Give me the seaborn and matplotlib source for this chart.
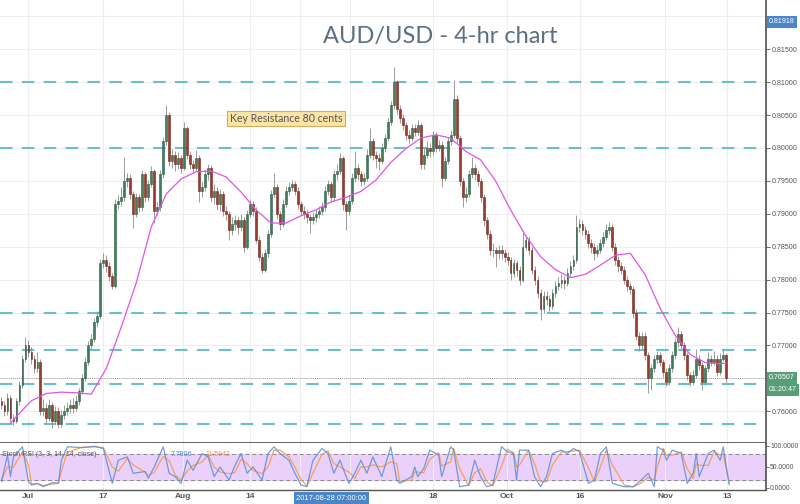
import numpy as np
import pandas as pd
import matplotlib
matplotlib.use("Agg")
import matplotlib.pyplot as plt
import seaborn as sns

# AUD/USD, price in pips (x 1e4), one bar per ~10 hours
first_open = 7615
close_pips = [
    7610, 7600, 7620, 7590, 7585, 7615, 7640, 7680, 7700, 7690,
    7680, 7665, 7675, 7600, 7605, 7590, 7610, 7585, 7600, 7580,
    7595, 7600, 7605, 7610, 7605, 7615, 7630, 7650, 7675, 7700,
    7710, 7735, 7745, 7825, 7830, 7820, 7805, 7790, 7915, 7920,
    7925, 7950, 7955, 7930, 7900, 7925, 7910, 7960, 7925, 7945,
    7965, 7905, 7910, 7960, 8010, 8050, 7980, 7990, 7975, 7985,
    7970, 8030, 7990, 7975, 7970, 7985, 7935, 7940, 7960, 7970,
    7925, 7935, 7915, 7930, 7905, 7900, 7875, 7885, 7890, 7880,
    7890, 7850, 7900, 7915, 7905, 7860, 7835, 7815, 7840, 7870,
    7930, 7940, 7900, 7885, 7915, 7935, 7940, 7945, 7935, 7915,
    7905, 7900, 7895, 7890, 7895, 7900, 7905, 7910, 7935, 7945,
    7925, 7960, 7965, 7985, 7915, 7905, 7920, 7955, 7970, 7960,
    7950, 7955, 7990, 8010, 7990, 7985, 7980, 8000, 8015, 8040,
    8065, 8100, 8060, 8045, 8035, 8020, 8015, 8030, 8025, 8035,
    7975, 7990, 8000, 7995, 8020, 8000, 8005, 7955, 7980, 8010,
    8020, 8075, 8015, 7950, 7925, 7930, 7960, 7970, 7960, 7950,
    7925, 7890, 7870, 7845, 7845, 7840, 7845, 7840, 7835, 7830,
    7810, 7825, 7815, 7800, 7850, 7860, 7845, 7815, 7800, 7780,
    7755, 7775, 7770, 7760, 7780, 7790, 7795, 7800, 7795, 7810,
    7820, 7830, 7880, 7885, 7875, 7870, 7855, 7850, 7840, 7845,
    7855, 7865, 7875, 7880, 7850, 7830, 7820, 7815, 7800, 7790,
    7785, 7750, 7715, 7700, 7715, 7685, 7650, 7665, 7680, 7685,
    7675, 7660, 7645, 7665, 7685, 7705, 7718, 7700, 7685, 7655,
    7645, 7655, 7680, 7670, 7645, 7665, 7680, 7675, 7680, 7660,
    7680, 7685, 7651,
]
high_pips = [
    7622, 7616, 7628, 7625, 7596, 7620, 7646, 7686, 7713, 7708,
    7697, 7686, 7690, 7680, 7618, 7612, 7618, 7614, 7608, 7606,
    7602, 7610, 7614, 7618, 7620, 7624, 7636, 7656, 7682, 7706,
    7718, 7742, 7752, 7832, 7840, 7838, 7826, 7810, 7922, 7928,
    7940, 7986, 7962, 7960, 7935, 7932, 7930, 7966, 7964, 7952,
    7972, 7968, 7918, 7966, 8016, 8065, 8054, 7998, 7996, 7994,
    7990, 8040, 8034, 7996, 7982, 7997, 7990, 7948, 7968, 7976,
    7974, 7945, 7940, 7938, 7935, 7912, 7904, 7895, 7898, 7896,
    7900, 7895, 7906, 7922, 7920, 7910, 7866, 7840, 7846, 7876,
    7936, 7962, 7945, 7905, 7922, 7942, 7948, 7952, 7950, 7940,
    7920, 7912, 7906, 7900, 7902, 7908, 7912, 7918, 7942, 7952,
    7950, 7966, 7975, 7992, 7988, 7920, 7928, 7962, 7995, 7976,
    7965, 7962, 7998, 8030, 8015, 7996, 7992, 8008, 8022, 8046,
    8072, 8123, 8104, 8066, 8052, 8040, 8028, 8036, 8036, 8042,
    8038, 8000, 8010, 8008, 8026, 8025, 8012, 8010, 7986, 8016,
    8028, 8103, 8080, 8020, 7955, 7940, 7966, 7986, 7976, 7966,
    7955, 7930, 7895, 7875, 7855, 7850, 7852, 7852, 7846, 7842,
    7835, 7832, 7830, 7820, 7875, 7868, 7866, 7850, 7820, 7805,
    7785, 7782, 7782, 7776, 7786, 7798, 7804, 7808, 7806, 7818,
    7828, 7838, 7898, 7892, 7890, 7882, 7875, 7862, 7856, 7852,
    7862, 7872, 7885, 7888, 7884, 7855, 7836, 7826, 7820, 7806,
    7796, 7790, 7755, 7720, 7720, 7720, 7690, 7672, 7686, 7692,
    7690, 7680, 7665, 7672, 7692, 7712, 7728, 7722, 7705, 7690,
    7660, 7662, 7695, 7686, 7675, 7670, 7690, 7686, 7692, 7685,
    7688, 7695, 7688,
]
low_pips = [
    7603, 7592, 7595, 7584, 7579, 7582, 7610, 7636, 7675, 7682,
    7672, 7658, 7660, 7595, 7592, 7582, 7585, 7574, 7580, 7575,
    7576, 7588, 7595, 7598, 7598, 7600, 7610, 7626, 7646, 7670,
    7694, 7705, 7728, 7740, 7818, 7812, 7798, 7786, 7788, 7908,
    7912, 7920, 7940, 7922, 7878, 7895, 7902, 7905, 7918, 7920,
    7940, 7886, 7898, 7905, 7955, 8005, 7972, 7970, 7965, 7968,
    7962, 7966, 7984, 7968, 7962, 7965, 7918, 7926, 7935, 7952,
    7918, 7915, 7906, 7905, 7896, 7890, 7860, 7868, 7875, 7870,
    7874, 7842, 7846, 7895, 7896, 7855, 7828, 7810, 7812, 7835,
    7865, 7925, 7892, 7875, 7880, 7910, 7928, 7934, 7928, 7908,
    7898, 7892, 7886, 7871, 7884, 7888, 7894, 7898, 7905, 7928,
    7918, 7920, 7952, 7960, 7906, 7875, 7898, 7915, 7948, 7952,
    7942, 7944, 7950, 7985, 7982, 7970, 7967, 7975, 7994, 8010,
    8035, 8060, 8052, 8038, 8028, 8012, 8008, 8010, 8018, 8020,
    7968, 7968, 7985, 7986, 7990, 7994, 7996, 7941, 7950, 7975,
    8004, 8015, 8008, 7942, 7911, 7918, 7925, 7955, 7952, 7942,
    7918, 7882, 7862, 7838, 7835, 7819, 7832, 7832, 7826, 7822,
    7800, 7804, 7806, 7792, 7796, 7845, 7838, 7808, 7792, 7772,
    7739, 7750, 7762, 7752, 7755, 7774, 7784, 7788, 7785, 7790,
    7804, 7815, 7825, 7872, 7868, 7862, 7848, 7840, 7830, 7834,
    7840, 7850, 7860, 7870, 7844, 7822, 7812, 7808, 7794, 7782,
    7778, 7742, 7708, 7692, 7695, 7678, 7628, 7632, 7660, 7674,
    7668, 7652, 7638, 7640, 7660, 7680, 7698, 7694, 7678, 7648,
    7638, 7640, 7650, 7662, 7632, 7640, 7660, 7668, 7670, 7654,
    7655, 7676, 7645,
]

# pink moving average, read at a few bars
ma_bars = [3] + list(range(5, 241, 5)) + [242]
ma_pips = [
    7582, 7592, 7616, 7627, 7629, 7628, 7626, 7665, 7728, 7795,
    7880, 7930, 7953, 7964, 7965, 7956, 7933, 7906, 7886, 7886,
    7897, 7906, 7918, 7925, 7934, 7951, 7978, 7999, 8015, 8020,
    8015, 7995, 7982, 7950, 7906, 7867, 7835, 7815, 7803, 7808,
    7822, 7837, 7840, 7807, 7756, 7715, 7686, 7674, 7672, 7673,
]

# Stoch RSI (3, 3, 14, 14, close)
stoch_bars = [
    0, 2, 3, 4, 7, 9, 10, 12, 14, 17,
    19, 20, 22, 27, 31, 34, 37, 39, 42, 44,
    48, 49, 51, 54, 56, 58, 60, 62, 64, 67,
    69, 71, 73, 76, 78, 80, 82, 84, 87, 89,
    91, 93, 96, 98, 100, 102, 104, 107, 109, 111,
    113, 116, 118, 120, 122, 124, 127, 130, 132, 133,
    137, 138, 139, 141, 143, 146, 147, 150, 151, 153,
    156, 158, 160, 162, 164, 167, 169, 171, 172, 173,
    176, 178, 180, 182, 184, 187, 189, 191, 193, 196,
    198, 200, 202, 204, 208, 211, 213, 216, 218, 219,
    221, 222, 224, 227, 229, 231, 232, 233, 236, 238,
    240, 241, 243,
]
stoch_k = [
    15, 78, 27, 74, 98, 15, 7, 11, 3, 13,
    11, 66, 98, 96, 99, 94, 11, 66, 74, 35,
    39, 23, 50, 98, 35, 27, 11, 66, 42, 82,
    74, 27, 50, 19, 54, 82, 35, 50, 19, 82,
    98, 82, 66, 35, 7, 3, 66, 94, 82, 35,
    66, 11, 35, 66, 35, 74, 27, 98, 19, 11,
    27, 50, 27, 46, 90, 78, 27, 98, 90, 3,
    7, 66, 27, 3, 7, 98, 86, 82, 19, 90,
    90, 27, 3, 27, 82, 90, 82, 94, 86, 11,
    19, 82, 98, 11, 3, 3, 15, 35, 3, 98,
    90, 66, 90, 82, 11, 35, 82, 27, 82, 90,
    66, 98, 7.78,
]
stoch_d = [
    20, 50, 50, 50, 86, 55, 10, 10, 6, 9,
    12, 40, 85, 97, 98, 96, 50, 40, 70, 55,
    37, 30, 37, 75, 65, 31, 19, 40, 54, 62,
    78, 50, 38, 34, 37, 68, 58, 42, 34, 50,
    90, 90, 74, 50, 20, 5, 35, 80, 88, 58,
    50, 38, 23, 50, 50, 55, 50, 62, 58, 15,
    19, 38, 38, 36, 68, 84, 52, 62, 94, 46,
    5, 36, 46, 15, 5, 52, 92, 84, 50, 55,
    90, 58, 15, 15, 55, 86, 86, 88, 90, 48,
    15, 50, 90, 55, 7, 3, 9, 25, 19, 50,
    94, 78, 78, 86, 46, 23, 58, 54, 54, 86,
    78, 82, 11.59,
]

tick_bars = [8.9, 33.9, 60.6, 83, 99.7, 116.4, 144.1, 168.8, 193.2, 221.6, 242.3]
tick_labels = ["Jul", "17", "Aug", "14", "", "", "18", "Oct", "16", "Nov", "13"]

price_ticks = [0.760, 0.765, 0.770, 0.775, 0.780, 0.785, 0.790, 0.795,
               0.800, 0.805, 0.810, 0.815, 0.820]
# 0.765 and 0.820 sit under the live price / last value boxes
price_labels = ["0.76000", "", "0.77000", "0.77500", "0.78000", "0.78500", "0.79000",
                "0.79500", "0.80000", "0.80500", "0.81000", "0.81500", ""]

levels = [0.81, 0.80, 0.775, 0.7693, 0.7641, 0.758]
last_price = 0.76507
last_high = 0.81918

sns.set_theme(style="white")
plt.rcParams["font.family"] = ["Liberation Sans", "DejaVu Sans"]

df = pd.DataFrame({"close": np.array(close_pips) / 1e4,
                   "high": np.array(high_pips) / 1e4,
                   "low": np.array(low_pips) / 1e4})
df["open"] = df["close"].shift(1).fillna(first_open / 1e4)
up = df["close"] >= df["open"]

fig = plt.figure(figsize=(8, 5.04), dpi=100)
ax = fig.add_axes([0, 1 - 443 / 504, 766 / 800, 443 / 504])
ax2 = fig.add_axes([0, 1 - 490 / 504, 766 / 800, 47 / 504])

# main panel
for lv in levels:
    ax.axhline(lv, xmax=757 / 766, color="#6cbfc8", lw=1.5, ls=(0, (6, 4.5)), zorder=2)
ax.axhline(last_price, color="#8a8a8a", lw=0.6, ls=(0, (1, 1.5)), zorder=2)

ax.vlines(df.index, df["low"], df["high"], color="#8c8c8c", lw=0.6, zorder=3)
ax.bar(df.index[up], (df["close"] - df["open"])[up], bottom=df["open"][up],
       width=0.62, color="#3f7d5c", edgecolor="#2d5e44", lw=0.4, zorder=4)
ax.bar(df.index[~up], (df["open"] - df["close"])[~up], bottom=df["close"][~up],
       width=0.62, color="#9c3a2c", edgecolor="#6e2418", lw=0.4, zorder=4)

sns.lineplot(x=ma_bars, y=np.array(ma_pips) / 1e4, ax=ax, color="#e055e6", lw=0.9, zorder=5)

ax.set_xlim(-0.5, 255.3)
ax.set_ylim(0.75517, 0.82249)
ax.set_xticks(tick_bars)
ax.set_xticklabels([])
ax.set_yticks(price_ticks)
ax.set_yticklabels(price_labels)
ax.yaxis.tick_right()
ax.tick_params(axis="y", labelsize=5.1, colors="#555555", length=3, width=0.6, pad=1.5)
ax.tick_params(axis="x", length=0)
ax.grid(True, color="#eeeeee", lw=0.8)
for s in ["top", "left"]:
    ax.spines[s].set_visible(False)
ax.spines["right"].set_color("#555555")
ax.spines["bottom"].set_color("#555555")
ax.spines["bottom"].set_linewidth(1.3)
ax.set_xlabel("")
ax.set_ylabel("")

ax.text(440 / 766, 1 - 37 / 443, "AUD/USD - 4-hr chart", transform=ax.transAxes,
        ha="center", va="center", fontsize=17, color="#5c6f80", family=["Lato", "DejaVu Sans"])
ax.text(286 / 766, 1 - 118.5 / 443, "Key Resistance 80 cents", transform=ax.transAxes,
        ha="center", va="center", fontsize=7.6, color="#555555", family=["Lato", "DejaVu Sans"],
        bbox=dict(boxstyle="square,pad=0.22", fc="#fbe4a6", ec="#cfae62", lw=0.8), zorder=6)

ytr = ax.get_yaxis_transform()
ax.text(1.004, last_high, "0.81918", transform=ytr, ha="left", va="center", fontsize=5.1,
        color="white", bbox=dict(boxstyle="square,pad=0.35", fc="#4a86c8", ec="none"), clip_on=False)
ax.text(1.004, last_price, "0.76507", transform=ytr, ha="left", va="center", fontsize=5.1,
        color="white", bbox=dict(boxstyle="square,pad=0.35", fc="#5a9e78", ec="none"), clip_on=False)
ax.text(1.004, last_price - 0.0018, "01:20:47", transform=ytr, ha="left", va="center", fontsize=5.1,
        color="white", bbox=dict(boxstyle="square,pad=0.35", fc="#5a9e78", ec="none"), clip_on=False)

# Stoch RSI panel
ax2.axhspan(20, 80, color="#ead0fb", zorder=0)
ax2.axhline(50, color="#dddddd", lw=0.6, zorder=1)
for lv in [20, 80]:
    ax2.axhline(lv, color="#8a8a8a", lw=0.7, ls=(0, (4, 3)), zorder=1)
sns.lineplot(x=stoch_bars, y=stoch_d, ax=ax2, color="#f2a25c", lw=0.9, zorder=2)
sns.lineplot(x=stoch_bars, y=stoch_k, ax=ax2, color="#5b8fd6", lw=0.9, alpha=0.85, zorder=3)

ax2.set_xlim(-0.5, 255.3)
ax2.set_ylim(-4.8, 107)
ax2.set_xticks(tick_bars)
ax2.set_xticklabels(tick_labels)
ax2.set_yticks([0, 50, 100])
ax2.set_yticklabels(["0.0000", "50.0000", "100.0000"])
ax2.yaxis.tick_right()
ax2.tick_params(axis="y", labelsize=4.9, colors="#555555", length=2, width=0.6, pad=1)
ax2.tick_params(axis="x", labelsize=6, colors="#555555", length=0, pad=2)
for lab in ax2.get_xticklabels():
    lab.set_fontweight("bold")
ax2.grid(True, axis="x", color="#eeeeee", lw=0.8)
ax2.spines["top"].set_visible(False)
ax2.spines["left"].set_visible(False)
ax2.spines["right"].set_color("#555555")
ax2.spines["bottom"].set_color("#555555")
ax2.spines["bottom"].set_linewidth(1.0)
ax2.set_xlabel("")
ax2.set_ylabel("")

ax2.text(0.002, 0.745, "Stoch RSI (3, 3, 14, 14, close)", transform=ax2.transAxes,
         ha="left", va="center", fontsize=5, color="#555555")
ax2.text(171 / 766, 0.745, "7.7806", transform=ax2.transAxes,
         ha="left", va="center", fontsize=5, color="#4a86d8")
ax2.text(205 / 766, 0.745, "11.5942", transform=ax2.transAxes,
         ha="left", va="center", fontsize=5, color="#f0903c")

fig.text(331.5 / 800, 1 - 498 / 504, "2017-08-28 07:00:00", ha="center", va="center",
         fontsize=5.5, color="white", bbox=dict(boxstyle="square,pad=0.35", fc="#4a86c8", ec="none"))

fig.savefig("out.png", dpi=100)
